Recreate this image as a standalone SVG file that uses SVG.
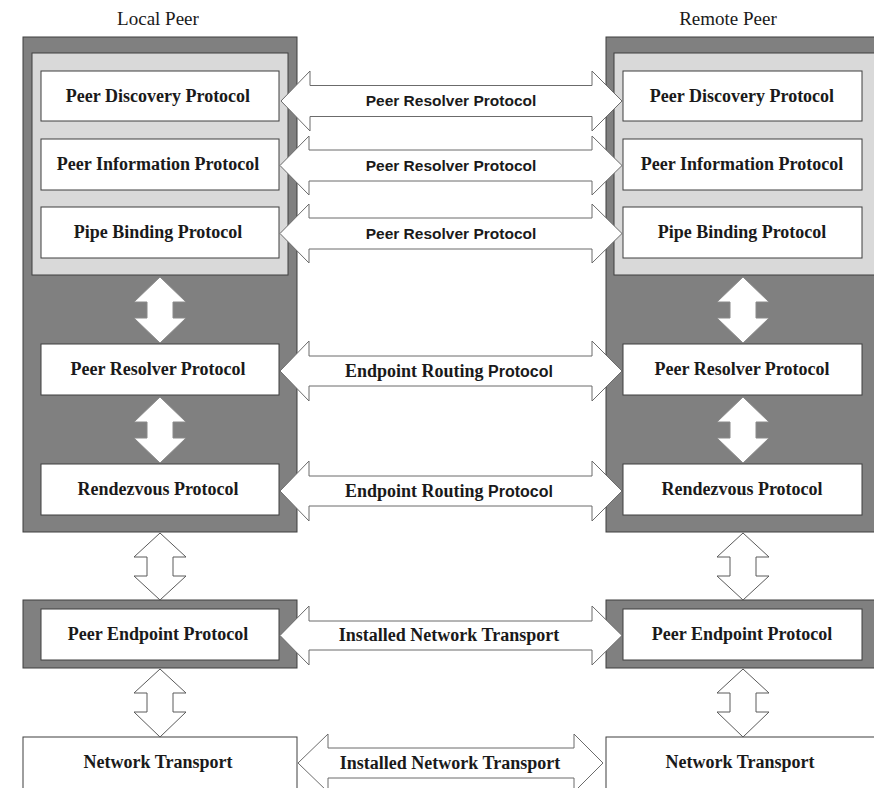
<svg xmlns="http://www.w3.org/2000/svg" width="874" height="788" viewBox="0 0 874 788">
<style>
.dark{fill:#808080;stroke:#3f3f3f;stroke-width:1}
.light{fill:#d9d9d9;stroke:#3f3f3f;stroke-width:1}
.box{fill:#ffffff;stroke:#3f3f3f;stroke-width:1}
.t{font-family:"Liberation Serif","Times New Roman",serif;font-weight:bold;font-size:18px;fill:#1a1a1a;text-anchor:middle}
.h{font-family:"Liberation Serif","Times New Roman",serif;font-size:19px;fill:#1a1a1a;text-anchor:middle}
.s{font-family:"Liberation Sans",Arial,sans-serif;font-weight:bold;font-size:15.5px;fill:#1a1a1a;text-anchor:middle}
.ha{fill:#ffffff;stroke:#6b6b6b;stroke-width:1}
.va{fill:#ffffff;stroke:#8a8a8a;stroke-width:1}
.vb{fill:#ffffff;stroke:#5a5a5a;stroke-width:1}
</style>
<rect width="874" height="788" fill="#ffffff"/>
<text class="h" x="158" y="25">Local Peer</text>
<text class="h" x="728" y="25">Remote Peer</text>

<g id="local-peer">
<rect class="dark" x="23" y="37" width="274" height="495"/>
<rect class="light" x="32" y="53" width="256" height="222"/>
</g>
<g id="remote-peer">
<rect class="dark" x="606" y="37" width="272" height="495"/>
<rect class="light" x="614" y="53" width="262" height="222"/>
</g>

<g id="l-discovery"><rect class="box" x="41" y="71" width="238" height="50"/><text class="t" x="158" y="102">Peer Discovery Protocol</text></g>
<g id="l-information"><rect class="box" x="41" y="139" width="238" height="51"/><text class="t" x="158" y="170">Peer Information Protocol</text></g>
<g id="l-pipe"><rect class="box" x="41" y="207" width="238" height="51"/><text class="t" x="158" y="238">Pipe Binding  Protocol</text></g>
<g id="l-resolver"><rect class="box" x="41" y="344" width="238" height="51"/><text class="t" x="158" y="375">Peer Resolver Protocol</text></g>
<g id="l-rendezvous"><rect class="box" x="41" y="464" width="238" height="51"/><text class="t" x="158" y="495">Rendezvous Protocol</text></g>

<g id="r-discovery"><rect class="box" x="623" y="71" width="239" height="50"/><text class="t" x="742" y="102">Peer Discovery Protocol</text></g>
<g id="r-information"><rect class="box" x="623" y="139" width="239" height="51"/><text class="t" x="742" y="170">Peer Information Protocol</text></g>
<g id="r-pipe"><rect class="box" x="623" y="207" width="239" height="51"/><text class="t" x="742" y="238">Pipe Binding  Protocol</text></g>
<g id="r-resolver"><rect class="box" x="623" y="344" width="239" height="51"/><text class="t" x="742" y="375">Peer Resolver Protocol</text></g>
<g id="r-rendezvous"><rect class="box" x="623" y="464" width="239" height="51"/><text class="t" x="742" y="495">Rendezvous Protocol</text></g>

<g id="l-endpoint"><rect class="dark" x="23" y="600" width="274" height="68"/><rect class="box" x="41" y="609" width="238" height="51"/><text class="t" x="158" y="640">Peer Endpoint Protocol</text></g>
<g id="r-endpoint"><rect class="dark" x="606" y="600" width="272" height="68"/><rect class="box" x="623" y="609" width="239" height="51"/><text class="t" x="742" y="640">Peer Endpoint Protocol</text></g>

<g id="l-transport"><rect class="box" x="23" y="737" width="274" height="60"/><text class="t" x="158" y="768">Network Transport</text></g>
<g id="r-transport"><rect class="box" x="606" y="737" width="272" height="60"/><text class="t" x="740" y="768">Network Transport</text></g>

<g id="connectors">
<polygon class="ha" points="281,101 310,71 310,85.5 592,85.5 592,71 622,101 592,131 592,116.5 310,116.5 310,131"/>
<polygon class="ha" points="280,165.5 309,136 309,150 592,150 592,136 622,165.5 592,195 592,181 309,181 309,195"/>
<polygon class="ha" points="280,233.5 309,204 309,218 592,218 592,204 622,233.5 592,263 592,249 309,249 309,263"/>
<polygon class="ha" points="280,371 309,341 309,356 592,356 592,341 622,371 592,401 592,386 309,386 309,401"/>
<polygon class="ha" points="280,491 309,461 309,476 592,476 592,461 622,491 592,521 592,506 309,506 309,521"/>
<polygon class="ha" points="280,635.5 309,606 309,621 592,621 592,606 622,635.5 592,665 592,650 309,650 309,665"/>
<polygon class="ha" points="298,763 328,734 328,748 574,748 574,734 603,763 574,792 574,778 328,778 328,792"/>

<text class="s" x="451" y="106">Peer Resolver Protocol</text>
<text class="s" x="451" y="171">Peer Resolver Protocol</text>
<text class="s" x="451" y="239">Peer Resolver Protocol</text>
<text class="t" x="449" y="377"><tspan>Endpoint Routing </tspan><tspan class="s" style="font-size:16px">Protocol</tspan></text>
<text class="t" x="449" y="497"><tspan>Endpoint Routing </tspan><tspan class="s" style="font-size:16px">Protocol</tspan></text>
<text class="t" x="449" y="641">Installed Network Transport</text>
<text class="t" x="450" y="769">Installed Network Transport</text>

<polygon class="va" points="160,277 186,302 173,302 173,318 186,318 160,343 134,318 147,318 147,302 134,302"/>
<polygon class="va" points="160,397 186,422 173,422 173,438 186,438 160,463 134,438 147,438 147,422 134,422"/>
<polygon class="vb" points="160,533 186,557 173,557 173,576 186,576 160,600 134,576 147,576 147,557 134,557"/>
<polygon class="vb" points="160,669 186,693 173,693 173,712 186,712 160,737 134,712 147,712 147,693 134,693"/>
<polygon class="va" points="743,277 769,302 756,302 756,318 769,318 743,343 717,318 730,318 730,302 717,302"/>
<polygon class="va" points="743,397 769,422 756,422 756,438 769,438 743,463 717,438 730,438 730,422 717,422"/>
<polygon class="vb" points="743,533 769,557 756,557 756,576 769,576 743,600 717,576 730,576 730,557 717,557"/>
<polygon class="vb" points="743,669 769,693 756,693 756,712 769,712 743,737 717,712 730,712 730,693 717,693"/>
</g>
</svg>
